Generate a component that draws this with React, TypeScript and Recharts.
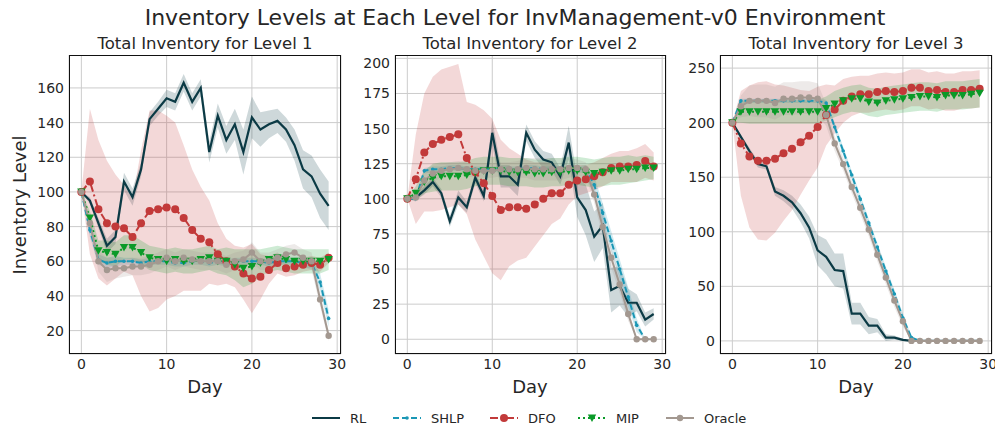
import { ComposedChart, Line, Area, XAxis, YAxis, CartesianGrid } from "recharts";

// days on the x axis
const days = [0, 1, 2, 3, 4, 5, 6, 7, 8, 9, 10, 11, 12, 13, 14, 15, 16, 17, 18, 19, 20, 21, 22, 23, 24, 25, 26, 27, 28, 29];
const xTicks = [0, 10, 20, 30];

// ---- Level 1 ----
const rl1 = [100, 95, 82, 69, 74, 106, 97, 113, 142, 148, 154, 152, 163, 152, 160, 123, 144, 130, 139, 123, 143, 136, 139, 141, 136, 127, 113, 109, 99, 92];
const rl1Sd = [0, 2, 3, 4, 4, 5, 5, 4, 4, 4, 5, 5, 5, 5, 5, 6, 7, 8, 9, 13, 12, 10, 8, 7, 7, 9, 11, 12, 14, 14];
const shlp1 = [100, 78, 61, 59, 60, 60, 60, 59, 60, 60, 60, 59, 59, 60, 60, 59, 60, 59, 60, 60, 60, 60, 59, 60, 60, 60, 59, 59, 48, 27];
const shlp1Sd = [0, 4, 3, 3, 3, 2, 2, 2, 2, 2, 2, 2, 2, 2, 2, 2, 2, 2, 2, 2, 2, 2, 2, 2, 2, 2, 3, 3, 5, 5];
const dfo1 = [100, 106, 90, 82, 80, 79, 74, 82, 89, 90, 91, 90, 85, 78, 73, 71, 64, 60, 57, 53, 50, 51, 55, 59, 56, 57, 58, 59, 58, 62];
const dfo1Sd = [0, 42, 40, 36, 30, 25, 22, 42, 58, 57, 53, 50, 42, 35, 30, 24, 18, 13, 12, 15, 20, 13, 8, 6, 5, 5, 4, 4, 4, 3];
const mip1 = [100, 85, 66, 65, 64, 68, 68, 65, 62, 61, 60, 61, 60, 60, 61, 62, 60, 60, 58, 56, 57, 59, 61, 62, 61, 60, 60, 60, 60, 61];
const mip1Sd = [0, 4, 6, 7, 7, 7, 7, 7, 7, 7, 7, 7, 7, 7, 7, 7, 7, 8, 9, 11, 10, 8, 7, 7, 7, 7, 7, 7, 7, 6];
const oracle1 = [100, 82, 60, 55, 56, 56, 57, 57, 58, 60, 62, 60, 62, 61, 60, 60, 60, 58, 60, 61, 65, 60, 60, 62, 64, 65, 62, 60, 38, 17];
const oracle1Sd = [0, 3, 6, 7, 6, 5, 5, 5, 5, 5, 5, 5, 5, 5, 5, 5, 5, 5, 5, 5, 6, 5, 5, 5, 5, 5, 5, 5, 4, 3];

// ---- Level 2 ----
const rl2 = [100, 101, 106, 112, 104, 84, 101, 94, 115, 102, 147, 116, 116, 110, 147, 135, 128, 126, 116, 140, 101, 92, 73, 81, 35, 38, 26, 26, 14, 18];
const rl2Sd = [0, 2, 3, 3, 3, 4, 5, 4, 4, 4, 9, 8, 8, 8, 6, 6, 6, 6, 6, 12, 14, 18, 18, 16, 16, 14, 10, 6, 5, 4];
const shlp2 = [100, 100, 120, 121, 121, 122, 122, 121, 121, 121, 121, 121, 121, 121, 122, 122, 121, 121, 121, 121, 121, 121, 110, 90, 70, 50, 30, 10, 0, 0];
const shlp2Sd = [0, 2, 2, 2, 2, 2, 2, 2, 2, 2, 2, 2, 2, 2, 2, 2, 2, 2, 2, 2, 2, 3, 6, 7, 7, 7, 7, 5, 0, 0];
const dfo2 = [100, 114, 133, 139, 142, 144, 146, 129, 119, 111, 102, 92, 94, 94, 93, 96, 100, 104, 104, 110, 113, 114, 116, 119, 122, 123, 123, 124, 127, 123];
const dfo2Sd = [0, 32, 42, 48, 50, 50, 50, 40, 48, 52, 55, 50, 42, 38, 35, 30, 26, 22, 18, 14, 11, 10, 10, 10, 10, 11, 11, 12, 12, 10];
const mip2 = [100, 104, 112, 115, 116, 116, 116, 117, 119, 120, 120, 120, 119, 119, 119, 118, 118, 119, 119, 120, 120, 119, 118, 119, 120, 120, 121, 121, 122, 122];
const mip2Sd = [0, 5, 8, 10, 10, 10, 10, 10, 10, 10, 10, 10, 10, 10, 10, 10, 10, 10, 10, 10, 10, 10, 10, 10, 10, 10, 10, 9, 9, 8];
const oracle2 = [100, 101, 113, 118, 120, 121, 122, 121, 120, 120, 120, 121, 121, 121, 122, 121, 121, 121, 121, 122, 122, 121, 103, 80, 58, 39, 18, 0, 0, 0];
const oracle2Sd = [0, 3, 5, 6, 5, 5, 5, 5, 5, 5, 5, 5, 5, 6, 7, 8, 8, 8, 8, 7, 6, 5, 6, 7, 7, 6, 5, 0, 0, 0];

// ---- Level 3 ----
const rl3 = [200, 187, 174, 162, 160, 137, 133, 127, 117, 104, 83, 77, 65, 64, 25, 25, 14, 14, 3, 3, 1, 0, 0, 0, 0, 0, 0, 0, 0, 0];
const rl3Sd = [0, 2, 3, 3, 3, 4, 5, 6, 8, 10, 14, 16, 15, 16, 10, 10, 8, 6, 3, 2, 1, 0, 0, 0, 0, 0, 0, 0, 0, 0];
const shlp3 = [200, 220, 220, 220, 220, 220, 220, 220, 220, 220, 220, 218, 196, 174, 152, 130, 108, 86, 64, 43, 21, 3, 0, 0, 0, 0, 0, 0, 0, 0];
const shlp3Sd = [0, 2, 2, 2, 2, 2, 2, 2, 2, 2, 2, 3, 4, 4, 4, 4, 4, 4, 4, 4, 4, 2, 0, 0, 0, 0, 0, 0, 0, 0];
const dfo3 = [200, 181, 169, 165, 165, 167, 172, 176, 182, 188, 196, 207, 212, 220, 224, 226, 226, 228, 229, 228, 229, 232, 232, 229, 230, 228, 228, 230, 230, 231];
const dfo3Sd = [0, 48, 65, 72, 73, 68, 62, 56, 48, 41, 37, 28, 22, 20, 18, 17, 17, 17, 17, 17, 17, 17, 17, 17, 17, 17, 17, 17, 17, 17];
const mip3 = [200, 210, 210, 210, 210, 210, 210, 210, 210, 210, 210, 213, 217, 220, 222, 222, 219, 218, 220, 221, 222, 223, 224, 224, 223, 225, 225, 225, 226, 227];
const mip3Sd = [0, 10, 11, 11, 11, 11, 11, 11, 11, 11, 11, 11, 12, 12, 12, 13, 13, 13, 13, 13, 13, 13, 13, 13, 13, 13, 13, 13, 13, 13];
const oracle3 = [200, 215, 220, 220, 220, 218, 222, 222, 223, 223, 222, 207, 181, 162, 141, 122, 102, 79, 58, 37, 18, 0, 0, 0, 0, 0, 0, 0, 0, 0];
const oracle3Sd = [0, 10, 14, 15, 15, 15, 15, 15, 15, 15, 14, 10, 7, 6, 6, 6, 6, 6, 6, 6, 5, 0, 0, 0, 0, 0, 0, 0, 0, 0];

const yTicks1 = [20, 40, 60, 80, 100, 120, 140, 160];
const yTicks2 = [0, 25, 50, 75, 100, 125, 150, 175, 200];
const yTicks3 = [0, 50, 100, 150, 200, 250];

const C = {
  rl: "#0b3a45",
  shlp: "#1a97b5",
  dfo: "#c23a3a",
  mip: "#0a9a28",
  oracle: "#a39890",
};
const FONT = "DejaVu Sans, sans-serif";
const INK = "#262626";

function buildRows(s: Record<string, number[][]>) {
  return days.map((d, i) => {
    const row: any = { day: d };
    for (const k of Object.keys(s)) {
      const [m, sd] = s[k];
      row[k] = m[i];
      row[k + "Band"] = [m[i] - sd[i], m[i] + sd[i]];
    }
    return row;
  });
}

const rows1 = buildRows({ rl: [rl1, rl1Sd], shlp: [shlp1, shlp1Sd], dfo: [dfo1, dfo1Sd], mip: [mip1, mip1Sd], oracle: [oracle1, oracle1Sd] });
const rows2 = buildRows({ rl: [rl2, rl2Sd], shlp: [shlp2, shlp2Sd], dfo: [dfo2, dfo2Sd], mip: [mip2, mip2Sd], oracle: [oracle2, oracle2Sd] });
const rows3 = buildRows({ rl: [rl3, rl3Sd], shlp: [shlp3, shlp3Sd], dfo: [dfo3, dfo3Sd], mip: [mip3, mip3Sd], oracle: [oracle3, oracle3Sd] });

// markers
const circle = (r: number, fill: string) => (p: any) =>
  <circle key={`c${p.index}`} cx={p.cx} cy={p.cy} r={r} fill={fill} stroke="none" />;
const triDown = (p: any) => (
  <path key={`t${p.index}`} d={`M${p.cx - 4.2},${p.cy - 3.5} L${p.cx + 4.2},${p.cy - 3.5} L${p.cx},${p.cy + 4} Z`} fill={C.mip} />
);

const PLOT_TOP = 55;
const PLOT_H = 299;
const YW = 60;
const RM = 14;

function Panel({ rows, left, width, domain, ticks }: { rows: any[]; left: number; width: number; domain: [number, number]; ticks: number[] }) {
  return (
    <div style={{ position: "absolute", left: left - YW, top: PLOT_TOP }}>
      <ComposedChart width={width + YW + RM} height={PLOT_H + 30} data={rows} margin={{ top: 0, right: RM, bottom: 0, left: 0 }}>
        <CartesianGrid stroke="#cccccc" strokeWidth={1} />
        <XAxis
          dataKey="day"
          type="number"
          domain={[-1.45, 30.45]}
          ticks={xTicks}
          allowDataOverflow
          height={30}
          axisLine={false}
          tickLine={false}
          tickSize={0}
          tickMargin={5}
          tick={{ fill: INK, fontSize: 14, fontFamily: FONT }}
        />
        <YAxis
          type="number"
          domain={domain}
          ticks={ticks}
          allowDataOverflow
          width={YW}
          axisLine={false}
          tickLine={false}
          tickSize={0}
          tickMargin={5}
          tick={{ fill: INK, fontSize: 14, fontFamily: FONT }}
        />
        <Area dataKey="rlBand" type="linear" stroke="none" fill={C.rl} fillOpacity={0.2} isAnimationActive={false} />
        <Area dataKey="shlpBand" type="linear" stroke="none" fill={C.shlp} fillOpacity={0.2} isAnimationActive={false} />
        <Area dataKey="dfoBand" type="linear" stroke="none" fill={C.dfo} fillOpacity={0.2} isAnimationActive={false} />
        <Area dataKey="mipBand" type="linear" stroke="none" fill={C.mip} fillOpacity={0.2} isAnimationActive={false} />
        <Area dataKey="oracleBand" type="linear" stroke="none" fill={C.oracle} fillOpacity={0.2} isAnimationActive={false} />
        <Line dataKey="rl" type="linear" stroke={C.rl} strokeWidth={2.2} dot={false} isAnimationActive={false} />
        <Line dataKey="shlp" type="linear" stroke={C.shlp} strokeWidth={2} strokeDasharray="6 3" dot={circle(1.8, C.shlp)} isAnimationActive={false} />
        <Line dataKey="dfo" type="linear" stroke={C.dfo} strokeWidth={2} strokeDasharray="8 3 2 3" dot={circle(4, C.dfo)} isAnimationActive={false} />
        <Line dataKey="mip" type="linear" stroke={C.mip} strokeWidth={2} strokeDasharray="2 3" dot={triDown} isAnimationActive={false} />
        <Line dataKey="oracle" type="linear" stroke={C.oracle} strokeWidth={2} dot={circle(3.2, C.oracle)} isAnimationActive={false} />
      </ComposedChart>
      <div
        style={{
          position: "absolute",
          left: YW,
          top: 0,
          width,
          height: PLOT_H,
          border: "1.3px solid #111",
          boxSizing: "border-box",
          pointerEvents: "none",
        }}
      />
    </div>
  );
}

const legendItems = [
  { name: "RL", color: C.rl, dash: undefined, marker: "none", x: 312 },
  { name: "SHLP", color: C.shlp, dash: "6 3", marker: "dot", x: 393 },
  { name: "DFO", color: C.dfo, dash: "8 3 2 3", marker: "circle", x: 490 },
  { name: "MIP", color: C.mip, dash: "2 3", marker: "tri", x: 578 },
  { name: "Oracle", color: C.oracle, dash: undefined, marker: "oracle", x: 666 },
];

function LegendMark({ it }: { it: (typeof legendItems)[number] }) {
  const y = 418;
  const cx = it.x + 14;
  return (
    <g>
      <line x1={it.x} x2={it.x + 28} y1={y} y2={y} stroke={it.color} strokeWidth={2} strokeDasharray={it.dash} />
      {it.marker === "dot" && <circle cx={cx} cy={y} r={1.8} fill={it.color} />}
      {it.marker === "circle" && <circle cx={cx} cy={y} r={4} fill={it.color} />}
      {it.marker === "oracle" && <circle cx={cx} cy={y} r={3.2} fill={it.color} />}
      {it.marker === "tri" && <path d={`M${cx - 4.2},${y - 3.5} L${cx + 4.2},${y - 3.5} L${cx},${y + 4} Z`} fill={it.color} />}
      <text x={it.x + 38} y={y + 4.5} fontSize={13} fill={INK} fontFamily={FONT}>
        {it.name}
      </text>
    </g>
  );
}

export default function App() {
  return (
    <div style={{ position: "absolute", left: 0, top: 0, width: 995, height: 430, background: "#fff", overflow: "hidden" }}>
      <Panel rows={rows1} left={69} width={272} domain={[6.5, 179]} ticks={yTicks1} />
      <Panel rows={rows2} left={395} width={271} domain={[-10.5, 202.4]} ticks={yTicks2} />
      <Panel rows={rows3} left={720} width={272} domain={[-12, 262]} ticks={yTicks3} />
      <svg width={995} height={430} style={{ position: "absolute", left: 0, top: 0, pointerEvents: "none" }}>
        <text x={515} y={25} textAnchor="middle" fontSize={22} fill={INK} fontFamily={FONT}>
          Inventory Levels at Each Level for InvManagement-v0 Environment
        </text>
        <text x={205} y={49} textAnchor="middle" fontSize={16.5} fill={INK} fontFamily={FONT}>Total Inventory for Level 1</text>
        <text x={530} y={49} textAnchor="middle" fontSize={16.5} fill={INK} fontFamily={FONT}>Total Inventory for Level 2</text>
        <text x={856} y={49} textAnchor="middle" fontSize={16.5} fill={INK} fontFamily={FONT}>Total Inventory for Level 3</text>
        <text x={205} y={393} textAnchor="middle" fontSize={18} fill={INK} fontFamily={FONT}>Day</text>
        <text x={530} y={393} textAnchor="middle" fontSize={18} fill={INK} fontFamily={FONT}>Day</text>
        <text x={856} y={393} textAnchor="middle" fontSize={18} fill={INK} fontFamily={FONT}>Day</text>
        <text x={0} y={0} transform="translate(26,205) rotate(-90)" textAnchor="middle" fontSize={18} fill={INK} fontFamily={FONT}>
          Inventory Level
        </text>
        {legendItems.map((it) => (
          <LegendMark key={it.name} it={it} />
        ))}
      </svg>
    </div>
  );
}
